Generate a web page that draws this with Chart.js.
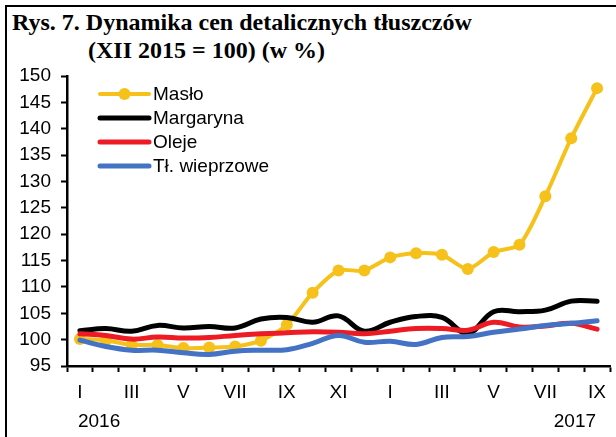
<!DOCTYPE html>
<html lang="pl">
<head>
<meta charset="utf-8">
<title>Rys. 7. Dynamika cen detalicznych tłuszczów</title>
<script src="https://cdn.jsdelivr.net/npm/chart.js@4/dist/chart.umd.min.js"></script>
<style>
  html, body { margin: 0; padding: 0; background: #fff; }
  #frame {
    position: relative;
    width: 616px;
    height: 437px;
    overflow: hidden;
  }
  #border {
    position: absolute;
    left: 5px;
    top: 5px;
    right: -10px;
    bottom: -10px;
    border-top: 2px solid #000;
    border-left: 2px solid #000;
  }
  .title {
    position: absolute;
    font-family: 'Liberation Serif', 'Times New Roman', serif;
    font-weight: bold;
    font-size: 24px;
    line-height: 24px;
    color: #000;
    white-space: nowrap;
  }
  #title1 { left: 12px; top: 10px; }
  #title2 { left: 88px; top: 38px; }
  #chartBox {
    position: absolute;
    left: 0;
    top: 0;
    width: 616px;
    height: 437px;
  }
</style>
</head>
<body>
<div id="frame">
  <div id="border"></div>
  <div class="title" id="title1">Rys. 7. Dynamika cen detalicznych tłuszczów</div>
  <div class="title" id="title2">(XII 2015 = 100) (w %)</div>
  <div id="chartBox"><canvas id="fatChart"></canvas></div>
</div>

<script>
// ==========================================
// Retail fat prices, XII 2015 = 100
// ==========================================

// Months I 2016 .. IX 2017
const months = ['I', 'II', 'III', 'IV', 'V', 'VI', 'VII', 'VIII', 'IX', 'X', 'XI', 'XII',
                'I', 'II', 'III', 'IV', 'V', 'VI', 'VII', 'VIII', 'IX'];
const years = ['2016', '2017'];

const maslo = [100.1, 99.9, 99.0, 99.0, 98.4, 98.5, 98.7, 99.8, 102.8, 108.9, 113.1, 113.1,
               115.6, 116.4, 116.1, 113.4, 116.6, 118.0, 127.2, 138.2, 147.7];
const margaryna = [101.7, 102.1, 101.6, 102.7, 102.2, 102.5, 102.2, 103.9, 104.2, 103.3, 104.5, 101.6,
                   103.3, 104.4, 104.2, 101.2, 105.3, 105.3, 105.6, 107.3, 107.3];
const oleje = [101.1, 100.8, 100.1, 100.5, 100.3, 100.4, 100.8, 101.1, 101.3, 101.5, 101.4, 101.1,
               101.6, 102.1, 102.1, 101.8, 103.3, 102.4, 102.6, 103.1, 102.0];
const wieprzowe = [99.9, 98.7, 98.0, 98.0, 97.5, 97.2, 97.8, 98.0, 98.1, 99.3, 100.8, 99.5,
                   99.7, 99.1, 100.4, 100.6, 101.4, 102.0, 102.7, 103.1, 103.6];

const COLORS = {
  maslo: '#f5c11a',
  margaryna: '#000000',
  oleje: '#ed1c24',
  wieprzowe: '#4472c4'
};

const AXIS_FONT = { family: "'Liberation Sans', Arial, sans-serif", size: 19 };

// Legend drawn inside the plot, top-left
const innerLegend = {
  id: 'innerLegend',
  afterDraw(chart) {
    const { ctx, chartArea } = chart;
    const x0 = chartArea.left + 33;
    const x1 = chartArea.left + 82;
    ctx.save();
    ctx.font = `${AXIS_FONT.size}px ${AXIS_FONT.family}`;
    ctx.textBaseline = 'middle';
    ctx.textAlign = 'left';
    chart.data.datasets.forEach((ds, i) => {
      const y = chartArea.top + 18 + i * 24;
      ctx.strokeStyle = ds.borderColor;
      ctx.lineWidth = ds.borderWidth;
      ctx.lineCap = 'round';
      ctx.beginPath();
      ctx.moveTo(x0, y);
      ctx.lineTo(x1, y);
      ctx.stroke();
      if (ds.pointRadius > 0) {
        ctx.fillStyle = ds.pointBackgroundColor;
        ctx.beginPath();
        ctx.arc((x0 + x1) / 2, y, ds.pointRadius, 0, Math.PI * 2);
        ctx.fill();
      }
      ctx.fillStyle = '#000';
      ctx.fillText(ds.label, x1 + 4, y + 1);
    });
    ctx.restore();
  }
};

// Year captions under the first and last month
const yearLabels = {
  id: 'yearLabels',
  afterDraw(chart) {
    const { ctx } = chart;
    const xs = chart.scales.x;
    const y = 422;
    ctx.save();
    ctx.font = `${AXIS_FONT.size}px ${AXIS_FONT.family}`;
    ctx.fillStyle = '#000';
    ctx.textBaseline = 'middle';
    ctx.textAlign = 'left';
    ctx.fillText(years[0], xs.getPixelForValue(0) - 2, y);
    ctx.textAlign = 'right';
    ctx.fillText(years[1], xs.getPixelForValue(months.length - 1) - 1, y);
    ctx.restore();
  }
};

function lineSet(label, data, color, order, withPoints) {
  return {
    label,
    data,
    borderColor: color,
    backgroundColor: color,
    borderWidth: withPoints ? 4 : 5,
    pointRadius: withPoints ? 6 : 0,
    pointBackgroundColor: color,
    pointBorderWidth: 0,
    tension: withPoints ? 0.25 : 0.4,
    borderCapStyle: 'round',
    fill: false,
    order
  };
}

new Chart(document.getElementById('fatChart'), {
  type: 'line',
  data: {
    labels: months,
    datasets: [
      lineSet('Masło', maslo, COLORS.maslo, 4, true),
      lineSet('Margaryna', margaryna, COLORS.margaryna, 3, false),
      lineSet('Oleje', oleje, COLORS.oleje, 2, false),
      lineSet('Tł. wieprzowe', wieprzowe, COLORS.wieprzowe, 1, false)
    ]
  },
  options: {
    responsive: true,
    maintainAspectRatio: false,
    animation: false,
    layout: { padding: { top: 76, right: 5, bottom: 0, left: 0 } },
    plugins: {
      legend: { display: false },
      tooltip: { enabled: false }
    },
    scales: {
      x: {
        offset: true,
        grid: {
          offset: true,
          drawOnChartArea: false,
          drawTicks: true,
          tickLength: 6,
          tickWidth: 2,
          tickColor: '#000'
        },
        border: { display: true, color: '#000', width: 2.5 },
        ticks: {
          color: '#000',
          font: AXIS_FONT,
          padding: 9,
          autoSkip: false,
          maxRotation: 0,
          callback: (val, i) => (i % 2 === 0 ? months[i] : '')
        },
        afterFit: (scale) => { scale.height = 71; }
      },
      y: {
        min: 95,
        max: 150,
        grid: {
          drawOnChartArea: false,
          drawTicks: true,
          tickLength: 6,
          tickWidth: 2,
          tickColor: '#000'
        },
        border: { display: true, color: '#000', width: 2.5 },
        ticks: {
          stepSize: 5,
          color: '#000',
          font: AXIS_FONT,
          padding: 10
        },
        afterFit: (scale) => { scale.width = 67; }
      }
    }
  },
  plugins: [innerLegend, yearLabels]
});
</script>
</body>
</html>
